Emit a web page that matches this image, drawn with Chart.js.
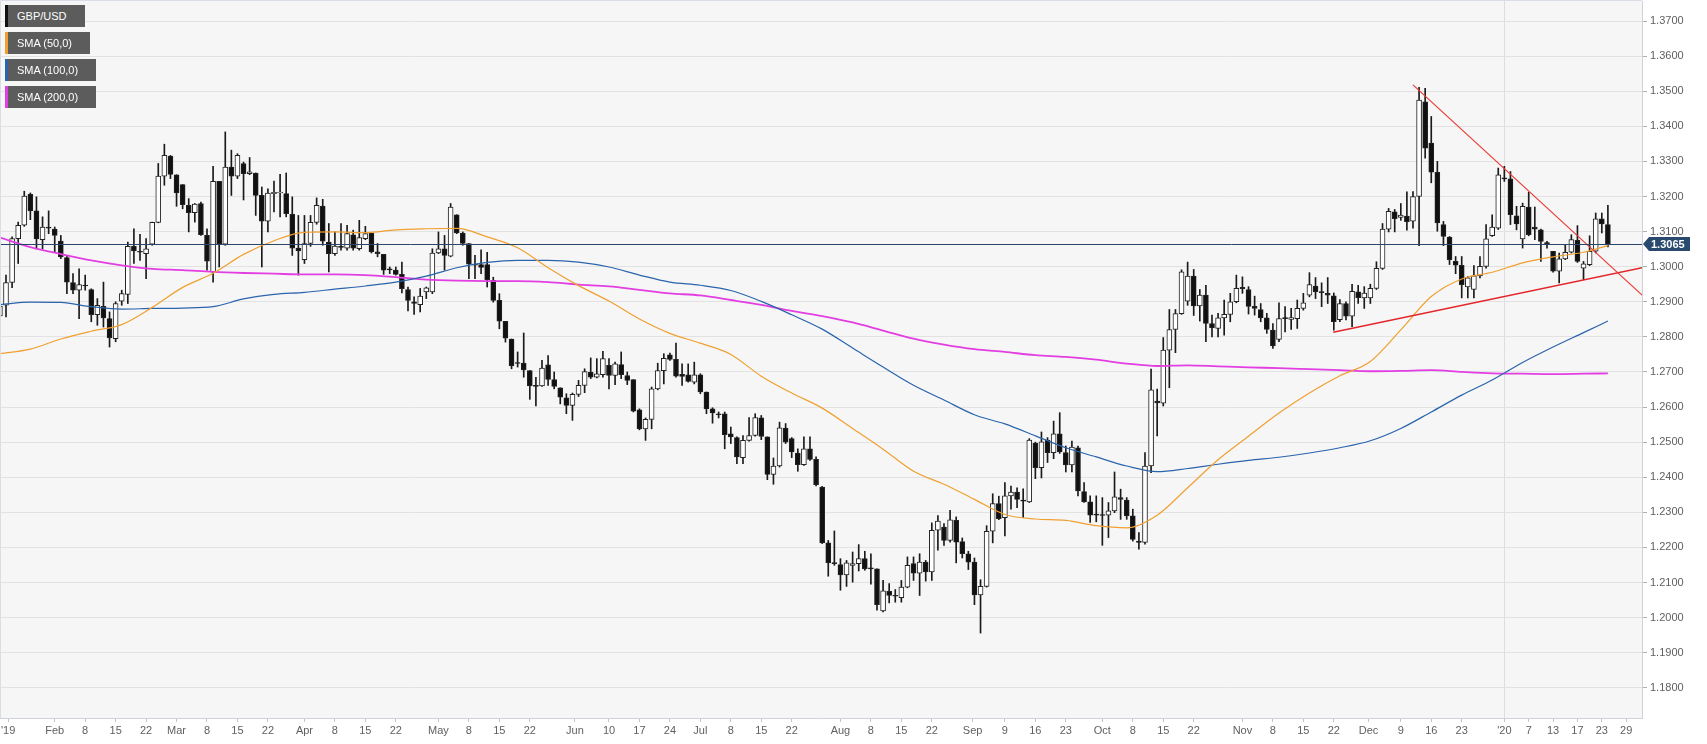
<!DOCTYPE html>
<html>
<head>
<meta charset="utf-8">
<title>GBP/USD daily</title>
<script src="https://cdn.jsdelivr.net/npm/chart.js@4.4.1/dist/chart.umd.min.js"></script>
<style>
    html, body { margin: 0; padding: 0; background: #fff; }
    #wrap { position: relative; width: 1707px; height: 744px; overflow: hidden; }
    .tag {
        position: absolute; left: 5px; height: 22px; box-sizing: border-box;
        background: #5c5c5c; color: #fff;
        font: 11px Arial, "Liberation Sans", sans-serif; line-height: 22px;
        padding-left: 9px; border-left: 3px solid #111; white-space: nowrap;
    }
</style>
</head>
<body>
<div id="wrap">
    <canvas id="gbpChart" width="1707" height="744"></canvas>
    <div class="tag" style="top:5px;width:80px;border-left-color:#111;">GBP/USD</div>
    <div class="tag" style="top:32px;width:85px;border-left-color:#f0a030;">SMA (50,0)</div>
    <div class="tag" style="top:59px;width:91px;border-left-color:#2a64ac;">SMA (100,0)</div>
    <div class="tag" style="top:86px;width:91px;border-left-color:#e23ee2;">SMA (200,0)</div>
</div>
<script>
//data - daily candles, one per weekday, Jan 21 2019 .. Jan 24 2020
var firstDay = -1;

var open = [
    1.2860,
    1.2890, 1.2955, 1.3080, 1.3118,
    1.3206, 1.3159, 1.3077, 1.3113, 1.3107,
    1.3073, 1.3026, 1.2955, 1.2933, 1.2946,
    1.2935, 1.2863, 1.2887, 1.2852, 1.2795,
    1.2902, 1.2921, 1.3058, 1.3042, 1.3037,
    1.3064, 1.3126, 1.3258, 1.3315, 1.3262,
    1.3234, 1.3175, 1.3154, 1.3180, 1.3089,
    1.2985, 1.3243, 1.3064, 1.3284, 1.3258,
    1.3294, 1.3265, 1.3267, 1.3203, 1.3130,
    1.3208, 1.3210, 1.3208, 1.3149, 1.3053,
    1.3020, 1.3066, 1.3126, 1.3173, 1.3070,
    1.3037, 1.3057, 1.3053, 1.3091, 1.3051,
    1.3080, 1.3096, 1.3042, 1.3035, 1.2994,
    1.2990, 1.2978, 1.2935, 1.2900, 1.2892,
    1.2928, 1.2928, 1.3039, 1.3051, 1.3030,
    1.3148, 1.3096, 1.3066, 1.3007, 1.3006,
    1.3006, 1.2961, 1.2904, 1.2844, 1.2794,
    1.2725, 1.2725, 1.2704, 1.2660, 1.2660,
    1.2720, 1.2678, 1.2655, 1.2626, 1.2605,
    1.2636, 1.2662, 1.2700, 1.2685, 1.2692,
    1.2719, 1.2690, 1.2721, 1.2690, 1.2678,
    1.2592, 1.2538, 1.2565, 1.2652, 1.2704,
    1.2749, 1.2736, 1.2693, 1.2692, 1.2671,
    1.2692, 1.2643, 1.2595, 1.2580, 1.2581,
    1.2524, 1.2513, 1.2456, 1.2505, 1.2519,
    1.2569, 1.2515, 1.2408, 1.2432, 1.2540,
    1.2510, 1.2469, 1.2436, 1.2481, 1.2451,
    1.2372, 1.2213, 1.2156, 1.2151, 1.2122,
    1.2149, 1.2154, 1.2168, 1.2140, 1.2139,
    1.2019, 1.2075, 1.2062, 1.2057, 1.2087,
    1.2154, 1.2127, 1.2158, 1.2130, 1.2249,
    1.2258, 1.2220, 1.2277, 1.2217, 1.2182,
    1.2158, 1.2065, 1.2089, 1.2246, 1.2325,
    1.2285, 1.2347, 1.2358, 1.2334, 1.2330,
    1.2497, 1.2427, 1.2506, 1.2470, 1.2524,
    1.2470, 1.2435, 1.2484, 1.2359, 1.2330,
    1.2293, 1.2292, 1.2292, 1.2304, 1.2342,
    1.2335, 1.2290, 1.2218, 1.2214, 1.2432,
    1.2617, 1.2611, 1.2762, 1.2821, 1.2866,
    1.2902, 1.2973, 1.2888, 1.2919, 1.2838,
    1.2824, 1.2854, 1.2864, 1.2900, 1.2941,
    1.2935, 1.2887, 1.2878, 1.2854, 1.2819,
    1.2793, 1.2853, 1.2850, 1.2852, 1.2881,
    1.2919, 1.2945, 1.2927, 1.2924, 1.2917,
    1.2849, 1.2895, 1.2859, 1.2928, 1.2911,
    1.2911, 1.2938, 1.2995, 1.3107, 1.3156,
    1.3140, 1.3144, 1.3130, 1.3200, 1.3470,
    1.3352, 1.3269, 1.3120, 1.3084, 1.3015,
    1.3004, 1.2942, 1.2935, 1.2974, 1.3001,
    1.3088, 1.3110, 1.3251, 1.3250, 1.3145,
    1.3079, 1.3170, 1.3113, 1.3105, 1.3069,
    1.3044, 1.2987, 1.3022, 1.3041, 1.3075,
    1.2996, 1.3006, 1.3044, 1.3136, 1.3120
];

var high = [
    1.2895,
    1.2976, 1.3085, 1.3127, 1.3215,
    1.3210, 1.3199, 1.3142, 1.3159, 1.3113,
    1.3089, 1.3032, 1.2980, 1.2994, 1.2976,
    1.2937, 1.2909, 1.2956, 1.2871, 1.2900,
    1.2933, 1.3070, 1.3108, 1.3092, 1.3080,
    1.3127, 1.3294, 1.3349, 1.3317, 1.3262,
    1.3234, 1.3194, 1.3180, 1.3184, 1.3108,
    1.3286, 1.3243, 1.3384, 1.3332, 1.3322,
    1.3298, 1.3311, 1.3267, 1.3227, 1.3222,
    1.3244, 1.3263, 1.3267, 1.3199, 1.3146,
    1.3146, 1.3146, 1.3196, 1.3192, 1.3123,
    1.3099, 1.3123, 1.3118, 1.3104, 1.3132,
    1.3115, 1.3096, 1.3066, 1.3035, 1.2999,
    1.2999, 1.3013, 1.2942, 1.2914, 1.2938,
    1.2942, 1.3051, 1.3099, 1.3089, 1.3180,
    1.3148, 1.3099, 1.3066, 1.3032, 1.3048,
    1.3041, 1.2970, 1.2923, 1.2844, 1.2794,
    1.2757, 1.2811, 1.2704, 1.2685, 1.2733,
    1.2747, 1.2700, 1.2655, 1.2638, 1.2640,
    1.2676, 1.2709, 1.2740, 1.2738, 1.2759,
    1.2738, 1.2728, 1.2757, 1.2700, 1.2678,
    1.2595, 1.2569, 1.2657, 1.2725, 1.2752,
    1.2754, 1.2782, 1.2723, 1.2723, 1.2728,
    1.2695, 1.2643, 1.2598, 1.2586, 1.2586,
    1.2543, 1.2515, 1.2519, 1.2570, 1.2581,
    1.2576, 1.2515, 1.2455, 1.2557, 1.2553,
    1.2513, 1.2481, 1.2515, 1.2515, 1.2458,
    1.2374, 1.2220, 1.2247, 1.2168, 1.2163,
    1.2187, 1.2208, 1.2189, 1.2182, 1.2139,
    1.2106, 1.2097, 1.2080, 1.2106, 1.2173,
    1.2173, 1.2182, 1.2163, 1.2270, 1.2291,
    1.2268, 1.2306, 1.2287, 1.2227, 1.2189,
    1.2170, 1.2108, 1.2262, 1.2353, 1.2346,
    1.2385, 1.2375, 1.2370, 1.2367, 1.2510,
    1.2500, 1.2529, 1.2513, 1.2560, 1.2584,
    1.2489, 1.2503, 1.2489, 1.2385, 1.2347,
    1.2347, 1.2342, 1.2328, 1.2415, 1.2366,
    1.2342, 1.2309, 1.2242, 1.2470, 1.2708,
    1.2651, 1.2798, 1.2878, 1.2878, 1.2991,
    1.3013, 1.2992, 1.2935, 1.2947, 1.2862,
    1.2867, 1.2905, 1.2924, 1.2976, 1.2971,
    1.2943, 1.2916, 1.2895, 1.2867, 1.2838,
    1.2897, 1.2886, 1.2881, 1.2905, 1.2924,
    1.2983, 1.2969, 1.2954, 1.2969, 1.2925,
    1.2906, 1.2900, 1.2950, 1.2947, 1.2943,
    1.2950, 1.3014, 1.3123, 1.3166, 1.3163,
    1.3180, 1.3213, 1.3214, 1.3511, 1.3508,
    1.3428, 1.3300, 1.3129, 1.3086, 1.3029,
    1.3029, 1.2972, 1.3003, 1.3029, 1.3120,
    1.3148, 1.3281, 1.3286, 1.3271, 1.3172,
    1.3181, 1.3212, 1.3170, 1.3107, 1.3072,
    1.3044, 1.3039, 1.3063, 1.3091, 1.3117,
    1.3015, 1.3088, 1.3153, 1.3153, 1.3175
];

var low = [
    1.2828,
    1.2857, 1.2940, 1.3009, 1.3115,
    1.3134, 1.3051, 1.3051, 1.3094, 1.3042,
    1.3023, 1.2923, 1.2923, 1.2852, 1.2933,
    1.2843, 1.2833, 1.2828, 1.2771, 1.2786,
    1.2890, 1.2895, 1.3009, 1.3018, 1.2966,
    1.3061, 1.3125, 1.3232, 1.3251, 1.3172,
    1.3165, 1.3099, 1.3127, 1.3089, 1.2990,
    1.2956, 1.2999, 1.3061, 1.3203, 1.3251,
    1.3190, 1.3262, 1.3146, 1.2999, 1.3099,
    1.3156, 1.3142, 1.3142, 1.3032, 1.2976,
    1.3009, 1.3058, 1.3121, 1.3061, 1.2985,
    1.3032, 1.3047, 1.3047, 1.3047, 1.3047,
    1.3077, 1.3039, 1.3028, 1.2978, 1.2980,
    1.2976, 1.2925, 1.2874, 1.2864, 1.2871,
    1.2909, 1.2923, 1.3037, 1.2990, 1.3028,
    1.3094, 1.3061, 1.2966, 1.2966, 1.2980,
    1.2942, 1.2899, 1.2823, 1.2785, 1.2709,
    1.2714, 1.2685, 1.2622, 1.2603, 1.2659,
    1.2662, 1.2652, 1.2609, 1.2581, 1.2562,
    1.2630, 1.2641, 1.2681, 1.2683, 1.2685,
    1.2652, 1.2664, 1.2681, 1.2664, 1.2586,
    1.2535, 1.2505, 1.2538, 1.2649, 1.2666,
    1.2733, 1.2685, 1.2662, 1.2671, 1.2666,
    1.2638, 1.2581, 1.2554, 1.2569, 1.2481,
    1.2496, 1.2439, 1.2439, 1.2503, 1.2517,
    1.2507, 1.2393, 1.2380, 1.2429, 1.2496,
    1.2456, 1.2417, 1.2434, 1.2448, 1.2375,
    1.2211, 1.2118, 1.2149, 1.2078, 1.2089,
    1.2101, 1.2133, 1.2135, 1.2095, 1.2021,
    1.2016, 1.2042, 1.2044, 1.2044, 1.2085,
    1.2106, 1.2063, 1.2104, 1.2106, 1.2192,
    1.2206, 1.2215, 1.2156, 1.2170, 1.2137,
    1.2037, 1.1956, 1.2087, 1.2213, 1.2279,
    1.2233, 1.2309, 1.2313, 1.2285, 1.2328,
    1.2396, 1.2398, 1.2442, 1.2453, 1.2468,
    1.2415, 1.2415, 1.2347, 1.2328, 1.2271,
    1.2273, 1.2206, 1.2228, 1.2299, 1.2280,
    1.2280, 1.2218, 1.2195, 1.2209, 1.2413,
    1.2518, 1.2603, 1.2655, 1.2755, 1.2864,
    1.2890, 1.2861, 1.2845, 1.2786, 1.2800,
    1.2800, 1.2805, 1.2843, 1.2897, 1.2924,
    1.2865, 1.2862, 1.2843, 1.2810, 1.2767,
    1.2786, 1.2814, 1.2821, 1.2824, 1.2876,
    1.2914, 1.2909, 1.2886, 1.2895, 1.2819,
    1.2843, 1.2848, 1.2829, 1.2895, 1.2881,
    1.2895, 1.2935, 1.2992, 1.3099, 1.3099,
    1.3132, 1.3104, 1.3110, 1.3060, 1.3309,
    1.3239, 1.3101, 1.3060, 1.3006, 1.2980,
    1.2911, 1.2911, 1.2911, 1.2968, 1.2996,
    1.3086, 1.3106, 1.3243, 1.3120, 1.3105,
    1.3053, 1.3088, 1.3077, 1.3015, 1.3053,
    1.2984, 1.2954, 1.3020, 1.3039, 1.3012,
    1.2963, 1.3003, 1.3039, 1.3096, 1.3056
];

var close = [
    1.2888,
    1.2955, 1.3080, 1.3118, 1.3201,
    1.3159, 1.3079, 1.3113, 1.3110, 1.3089,
    1.3028, 1.2956, 1.2933, 1.2949, 1.2945,
    1.2863, 1.2890, 1.2854, 1.2797, 1.2895,
    1.2923, 1.3058, 1.3045, 1.3041, 1.3051,
    1.3126, 1.3258, 1.3317, 1.3263, 1.3210,
    1.3177, 1.3154, 1.3178, 1.3091, 1.3016,
    1.3243, 1.3064, 1.3284, 1.3258, 1.3317,
    1.3265, 1.3270, 1.3203, 1.3130, 1.3210,
    1.3212, 1.3212, 1.3151, 1.3053, 1.3045,
    1.3066, 1.3126, 1.3175, 1.3073, 1.3037,
    1.3059, 1.3055, 1.3094, 1.3053, 1.3083,
    1.3094, 1.3042, 1.3037, 1.2990, 1.2991,
    1.2978, 1.2937, 1.2904, 1.2895, 1.2916,
    1.2940, 1.3039, 1.3051, 1.3032, 1.3170,
    1.3096, 1.3066, 1.3007, 1.3004, 1.2998,
    1.2963, 1.2904, 1.2845, 1.2796, 1.2717,
    1.2724, 1.2706, 1.2660, 1.2659, 1.2711,
    1.2679, 1.2659, 1.2628, 1.2605, 1.2636,
    1.2662, 1.2701, 1.2685, 1.2695, 1.2738,
    1.2690, 1.2723, 1.2692, 1.2676, 1.2588,
    1.2538, 1.2565, 1.2652, 1.2704, 1.2739,
    1.2736, 1.2688, 1.2687, 1.2673, 1.2692,
    1.2643, 1.2595, 1.2583, 1.2578, 1.2521,
    1.2515, 1.2458, 1.2505, 1.2519, 1.2570,
    1.2516, 1.2408, 1.2432, 1.2541, 1.2500,
    1.2472, 1.2436, 1.2481, 1.2451, 1.2379,
    1.2213, 1.2156, 1.2154, 1.2122, 1.2156,
    1.2154, 1.2168, 1.2139, 1.2139, 1.2037,
    1.2076, 1.2063, 1.2061, 1.2087, 1.2149,
    1.2127, 1.2158, 1.2130, 1.2249, 1.2275,
    1.2220, 1.2279, 1.2215, 1.2182, 1.2158,
    1.2065, 1.2089, 1.2246, 1.2325, 1.2282,
    1.2347, 1.2358, 1.2337, 1.2332, 1.2506,
    1.2427, 1.2501, 1.2470, 1.2524, 1.2472,
    1.2435, 1.2486, 1.2361, 1.2330, 1.2292,
    1.2292, 1.2291, 1.2304, 1.2344, 1.2337,
    1.2290, 1.2223, 1.2214, 1.2432, 1.2649,
    1.2612, 1.2762, 1.2821, 1.2866, 1.2985,
    1.2973, 1.2888, 1.2919, 1.2838, 1.2826,
    1.2854, 1.2864, 1.2900, 1.2938, 1.2937,
    1.2887, 1.2881, 1.2854, 1.2821, 1.2774,
    1.2852, 1.2852, 1.2855, 1.2881, 1.2897,
    1.2949, 1.2928, 1.2926, 1.2919, 1.2843,
    1.2895, 1.2859, 1.2930, 1.2912, 1.2925,
    1.2938, 1.2995, 1.3107, 1.3158, 1.3137,
    1.3147, 1.3128, 1.3200, 1.3475, 1.3338,
    1.3269, 1.3125, 1.3086, 1.3020, 1.3004,
    1.2949, 1.2968, 1.2974, 1.3001, 1.3079,
    1.3113, 1.3262, 1.3250, 1.3148, 1.3122,
    1.3172, 1.3091, 1.3107, 1.3072, 1.3065,
    1.2987, 1.3022, 1.3041, 1.3077, 1.3015,
    1.3008, 1.3044, 1.3136, 1.3122, 1.3065
];

// moving averages
var smaDays = [-1, 4, 9, 14, 19, 24, 29, 34, 39, 44, 49, 54, 59, 64, 69, 74, 79, 84, 89, 94,
    99, 104, 109, 114, 119, 124, 129, 134, 139, 144, 149, 154, 159, 164, 169, 174, 179, 184, 189, 194,
    199, 204, 209, 214, 219, 224, 229, 234, 239, 244, 249, 254, 259, 263];

var sma50 = [1.2752, 1.2765, 1.2794, 1.2816, 1.2835, 1.2884, 1.2941, 1.2981, 1.3035, 1.3074,
    1.3098, 1.3099, 1.3097, 1.3105, 1.3108, 1.3109, 1.3085, 1.3054, 1.2997, 1.2946,
    1.2902, 1.2851, 1.2810, 1.2782, 1.2750, 1.2688, 1.2640, 1.2597, 1.2539, 1.2480,
    1.2417, 1.2380, 1.2337, 1.2294, 1.2281, 1.2277, 1.2262, 1.2256, 1.2292, 1.2370,
    1.2450, 1.2517, 1.2583, 1.2640, 1.2689, 1.2730, 1.2820, 1.2915, 1.2965, 1.2984,
    1.3011, 1.3028, 1.3041, 1.3060];

var sma100 = [1.2892, 1.2899, 1.2898, 1.2886, 1.2879, 1.2881, 1.2882, 1.2886, 1.2908, 1.2921,
    1.2927, 1.2936, 1.2945, 1.2956, 1.2973, 1.2997, 1.3012, 1.3018, 1.3018, 1.3013,
    1.2999, 1.2976, 1.2956, 1.2947, 1.2932, 1.2901, 1.2863, 1.2822, 1.2768, 1.2714,
    1.2662, 1.2620, 1.2578, 1.2552, 1.2518, 1.2484, 1.2458, 1.2432, 1.2416, 1.2425,
    1.2437, 1.2448, 1.2457, 1.2469, 1.2484, 1.2504, 1.2539, 1.2586, 1.2634, 1.2677,
    1.2727, 1.2771, 1.2812, 1.2845];

var sma200 = [1.3083, 1.3056, 1.3036, 1.3018, 1.3004, 1.2994, 1.2990, 1.2985, 1.2982, 1.2980,
    1.2978, 1.2978, 1.2976, 1.2970, 1.2963, 1.2960, 1.2959, 1.2959, 1.2956, 1.2949,
    1.2944, 1.2934, 1.2924, 1.2918, 1.2905, 1.2891, 1.2874, 1.2859, 1.2841, 1.2818,
    1.2795, 1.2778, 1.2765, 1.2757, 1.2748, 1.2743, 1.2735, 1.2724, 1.2717, 1.2719,
    1.2716, 1.2713, 1.2711, 1.2708, 1.2705, 1.2702, 1.2703, 1.2705, 1.2700, 1.2696,
    1.2695, 1.2694, 1.2695, 1.2696];

// hand drawn trend lines (day, price)
var downLineDays = [231, 272];
var downLinePrices = [1.3518, 1.2865];
var upLineDays = [217.9, 272];
var upLinePrices = [1.2813, 1.3009];

// axes
var tickDays = [0.35, 8, 13, 18, 23, 28, 33, 38, 43, 49, 54, 59, 64, 71, 76, 81, 86,
    93.4, 99, 104, 109, 114, 119, 124, 129, 137, 142, 147, 152, 158.7, 164, 169, 174,
    180, 185, 190, 195, 203, 208, 213, 218, 223.7, 229, 234, 239, 246, 250, 254, 258, 262, 266];
var tickLabels = ["'19", "Feb", "8", "15", "22", "Mar", "8", "15", "22", "Apr", "8", "15", "22",
    "May", "8", "15", "22", "Jun", "10", "17", "24", "Jul", "8", "15", "22", "Aug", "8", "15", "22",
    "Sep", "9", "16", "23", "Oct", "8", "15", "22", "Nov", "8", "15", "22", "Dec", "9", "16", "23",
    "'20", "7", "13", "17", "23", "29"];
var priceTicks = [1.18, 1.19, 1.20, 1.21, 1.22, 1.23, 1.24, 1.25, 1.26, 1.27, 1.28, 1.29,
    1.30, 1.31, 1.32, 1.33, 1.34, 1.35, 1.36, 1.37];

var FONT = 'Arial, "Liberation Sans", sans-serif';

// build points
var bodies = [];
var wicks = [];
for (var i = 0; i < open.length; i++) {
    bodies.push({ x: firstDay + i, y: [open[i], close[i]] });
    wicks.push({ x: firstDay + i, y: [low[i], high[i]] });
}

function linePoints(days, values) {
    var pts = [];
    for (var k = 0; k < days.length; k++) {
        pts.push({ x: days[k], y: values[k] });
    }
    return pts;
}

var lastClose = close[close.length - 1];

// plot background, frame, last price line and tag
var frame = {
    id: 'frame',
    beforeDraw: function (chart) {
        var a = chart.chartArea, c = chart.ctx;
        c.save();
        c.fillStyle = '#ffffff';
        c.fillRect(0, 0, chart.width, chart.height);
        c.fillStyle = '#f6f6f6';
        c.fillRect(a.left, a.top, a.right - a.left, a.bottom - a.top);
        c.restore();
    },
    afterDatasetsDraw: function (chart) {
        var a = chart.chartArea, c = chart.ctx;
        var y = Math.round(chart.scales.y.getPixelForValue(lastClose)) + 0.5;
        c.save();
        c.strokeStyle = '#2b4768';
        c.lineWidth = 1;
        c.beginPath();
        c.moveTo(a.left, y);
        c.lineTo(a.right, y);
        c.stroke();
        c.restore();
    },
    afterDraw: function (chart) {
        var a = chart.chartArea, c = chart.ctx;
        c.save();
        c.strokeStyle = '#d9dde6';
        c.lineWidth = 1;
        c.beginPath();
        c.moveTo(a.left + 0.5, a.bottom);
        c.lineTo(a.left + 0.5, a.top - 0.5);
        c.lineTo(a.right, a.top - 0.5);
        c.stroke();

        var y = Math.round(chart.scales.y.getPixelForValue(lastClose));
        var x0 = a.right + 1;
        c.fillStyle = '#294a6e';
        c.beginPath();
        c.moveTo(x0, y);
        c.lineTo(x0 + 6, y - 7);
        c.lineTo(x0 + 47, y - 7);
        c.lineTo(x0 + 47, y + 7);
        c.lineTo(x0 + 6, y + 7);
        c.closePath();
        c.fill();
        c.fillStyle = '#ffffff';
        c.font = 'bold 11px ' + FONT;
        c.textAlign = 'left';
        c.textBaseline = 'middle';
        c.fillText(lastClose.toFixed(4), x0 + 8, y + 0.5);
        c.restore();
    }
};

var ctx = document.getElementById('gbpChart').getContext('2d');
var chart = new Chart(ctx, {
    type: 'bar',
    data: {
        datasets: [{
            // wicks
            type: 'bar',
            data: wicks,
            backgroundColor: '#1a1a1a',
            barThickness: 1,
            grouped: false,
            order: 10
        }, {
            // candle bodies
            type: 'bar',
            data: bodies,
            backgroundColor: function (c) {
                var i = c.dataIndex;
                return close[i] >= open[i] ? '#ffffff' : '#111111';
            },
            borderColor: '#222222',
            borderWidth: 1,
            borderSkipped: false,
            barThickness: 5,
            minBarLength: 1,
            grouped: false,
            order: 9
        }, {
            type: 'line',
            data: linePoints(smaDays, sma200),
            borderColor: '#e23ee2',
            borderWidth: 1.8,
            pointRadius: 0,
            cubicInterpolationMode: 'monotone',
            order: 3
        }, {
            type: 'line',
            data: linePoints(smaDays, sma100),
            borderColor: '#2a64ac',
            borderWidth: 1.2,
            pointRadius: 0,
            cubicInterpolationMode: 'monotone',
            order: 2
        }, {
            type: 'line',
            data: linePoints(smaDays, sma50),
            borderColor: '#f0a030',
            borderWidth: 1.2,
            pointRadius: 0,
            cubicInterpolationMode: 'monotone',
            order: 1
        }, {
            type: 'line',
            data: linePoints(downLineDays, downLinePrices),
            borderColor: '#ec3a36',
            borderWidth: 1.2,
            pointRadius: 0,
            order: 0
        }, {
            type: 'line',
            data: linePoints(upLineDays, upLinePrices),
            borderColor: '#e3262a',
            borderWidth: 1.4,
            pointRadius: 0,
            order: 0
        }]
    },
    options: {
        responsive: false,
        animation: false,
        events: [],
        layout: { padding: { top: 1, left: 0, right: 0, bottom: 0 } },
        plugins: {
            legend: { display: false },
            tooltip: { enabled: false }
        },
        scales: {
            x: {
                type: 'linear',
                min: -0.985,
                max: 268.6,
                offset: false,
                grid: {
                    offset: false,
                    color: function (c) {
                        return tickLabels[c.index] === "'20" ? '#dedede' : 'rgba(0,0,0,0)';
                    },
                    tickColor: '#c4c4c4',
                    tickLength: 4
                },
                border: { color: '#cfd2d8' },
                ticks: {
                    autoSkip: false,
                    maxRotation: 0,
                    padding: 2,
                    color: '#606060',
                    font: { family: FONT, size: 11 },
                    callback: function (v, idx) { return tickLabels[idx]; }
                },
                afterBuildTicks: function (scale) {
                    scale.ticks = tickDays.map(function (d) { return { value: d }; });
                },
                afterFit: function (scale) {
                    scale.height = 26;
                    scale.paddingLeft = 0;
                    scale.paddingRight = 0;
                }
            },
            y: {
                type: 'linear',
                position: 'right',
                min: 1.1714,
                max: 1.3757,
                beginAtZero: false,
                grid: {
                    color: '#e2e2e2',
                    tickColor: '#b0b0b0',
                    tickLength: 5
                },
                border: { color: '#cfd2d8' },
                ticks: {
                    padding: 3,
                    color: '#606060',
                    font: { family: FONT, size: 11 },
                    callback: function (v) { return Number(v).toFixed(4); }
                },
                afterBuildTicks: function (scale) {
                    scale.ticks = priceTicks.map(function (p) { return { value: p }; });
                },
                afterFit: function (scale) {
                    scale.width = 65;
                    scale.paddingTop = 0;
                    scale.paddingBottom = 0;
                }
            }
        }
    },
    plugins: [frame]
});
</script>
</body>
</html>
